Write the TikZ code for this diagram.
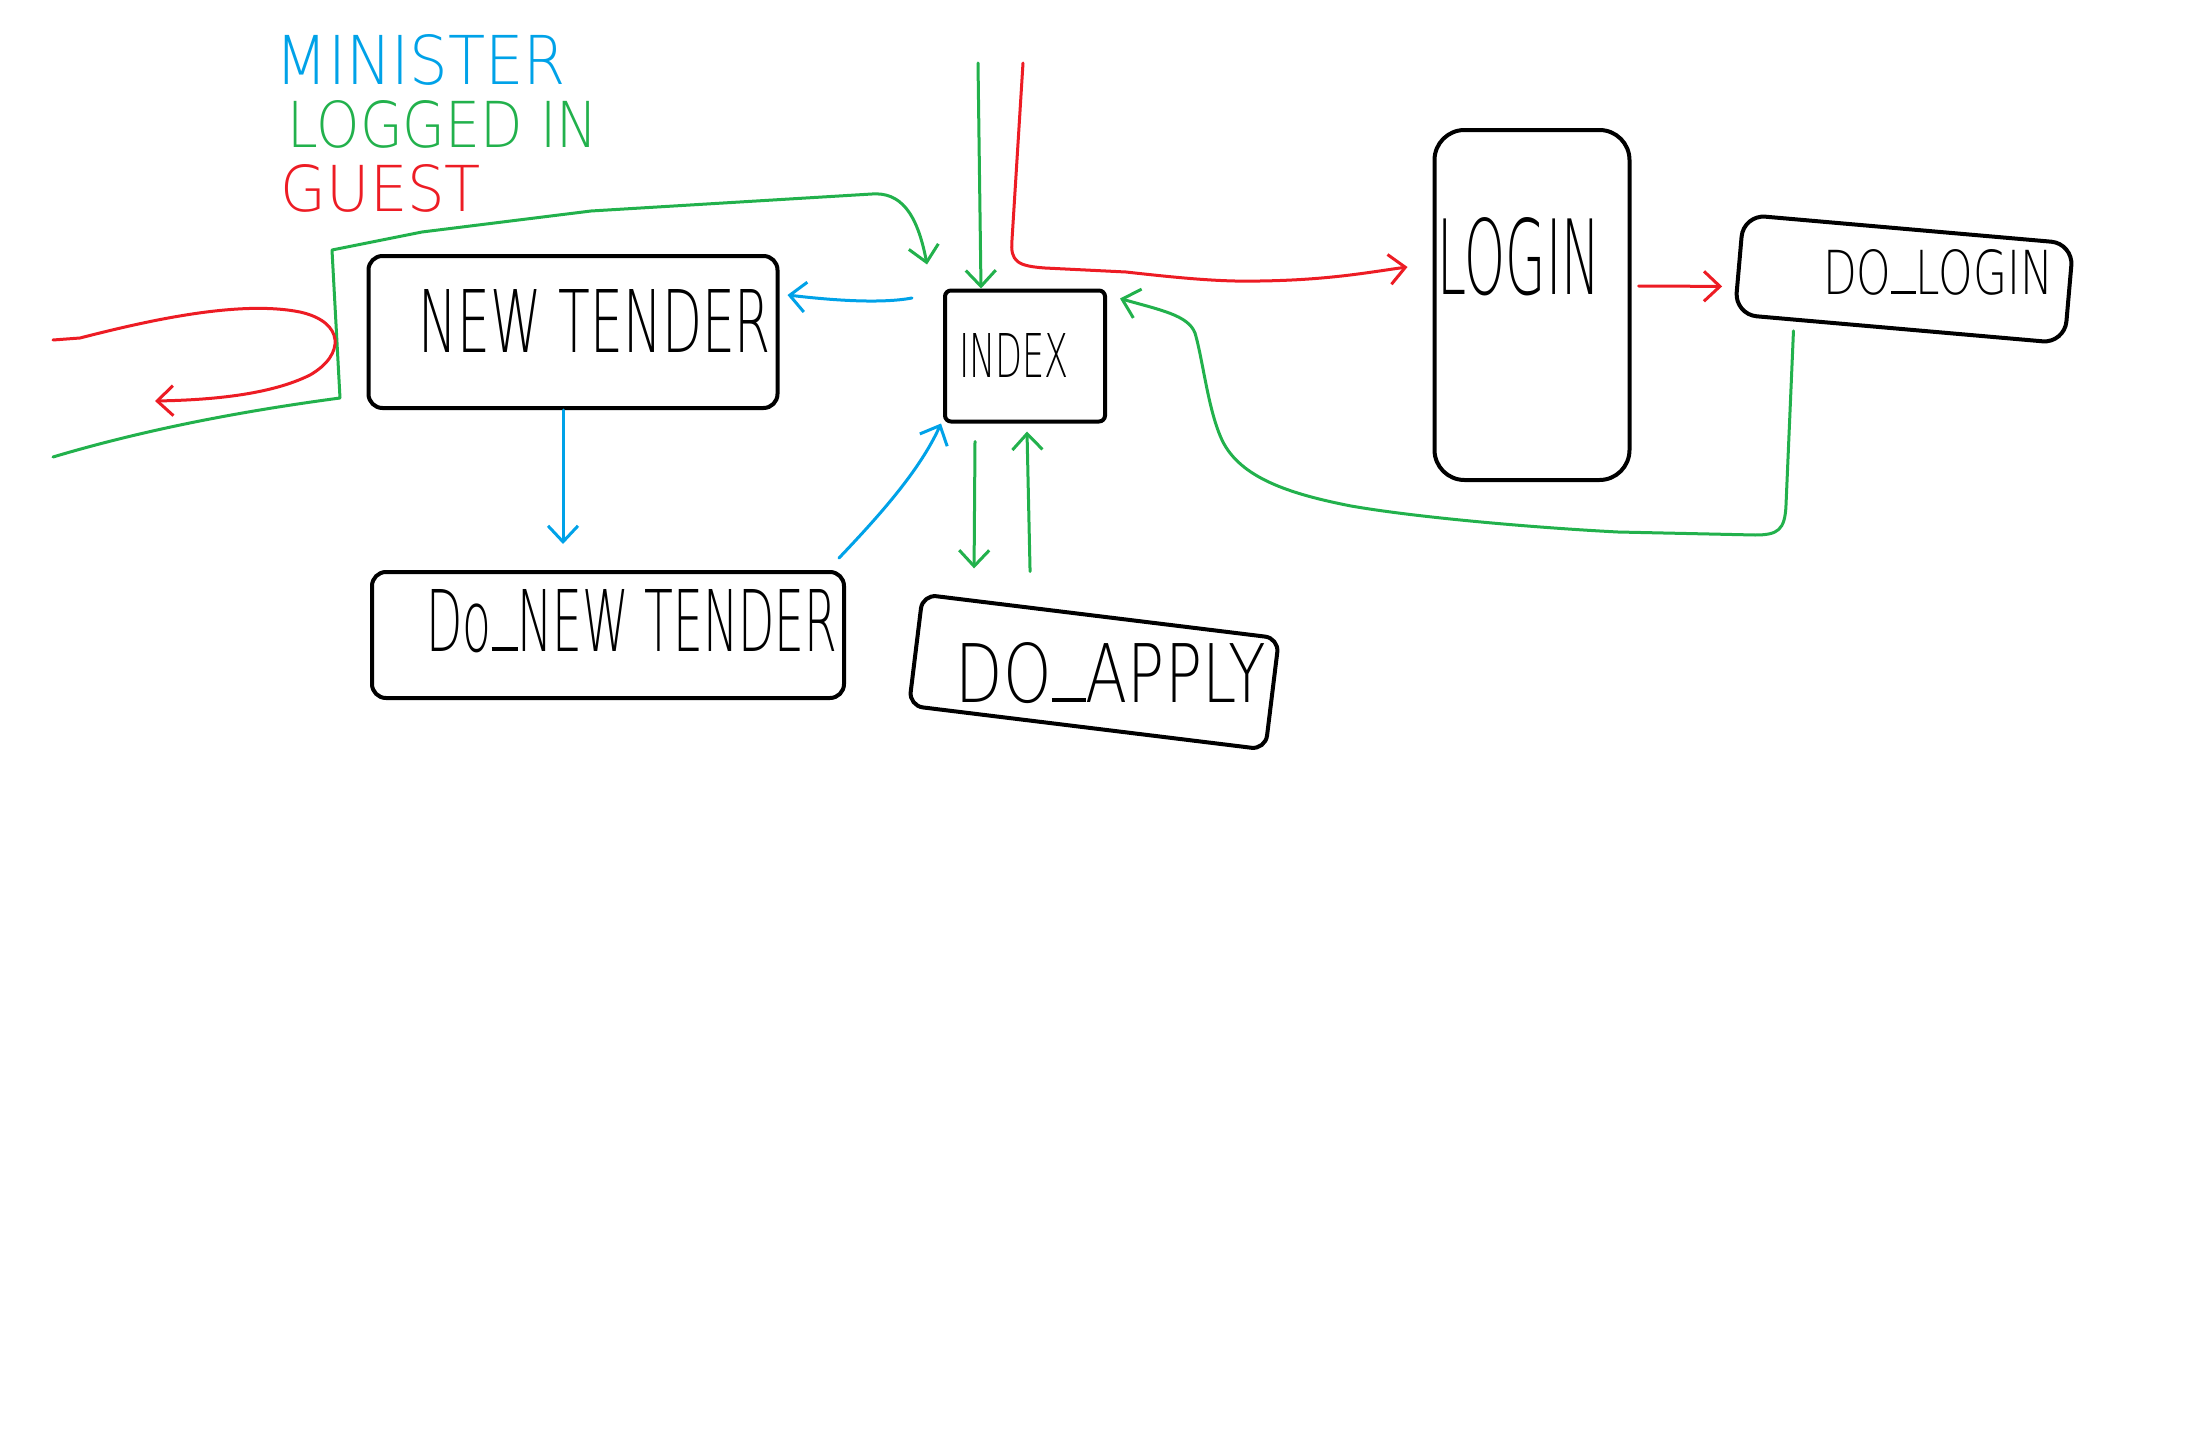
\documentclass[tikz,border=0pt]{standalone}
\usepackage{fontspec}
\newfontfamily\hand{DejaVu Sans ExtraLight}
\usetikzlibrary{arrows.meta}
\definecolor{pblue}{RGB}{0,162,232}
\definecolor{pgreen}{RGB}{34,177,76}
\definecolor{pred}{RGB}{237,28,36}
\newcommand\hw[3]{\resizebox{#1pt}{#2pt}{\hand #3}}
\newcommand\us{\rule{0.55em}{0.05em}}
\begin{document}
\begin{tikzpicture}[x=1pt,y=-1pt,
  box/.style={draw=black, line width=4pt, rounded corners=14pt, inner sep=0pt, anchor=center},
  lbl/.style={inner sep=0pt, anchor=center},
  conn/.style={line width=3pt, line cap=round, line join=round},
  tip/.style={-{Straight Barb[length=16pt,width=30pt]}},
]
\fill[white] (0,0) rectangle (2206,1429);
\useasboundingbox (0,0) rectangle (2206,1429);

% legend
\node[lbl, text=pblue] (legM) at (421,60) {\hw{290}{50}{MINISTER}};
\node[lbl, text=pgreen] (legL) at (443,124) {\hw{310}{47}{LOGGED IN}};
\node[lbl, text=pred] (legG) at (381,188) {\hw{200}{47}{GUEST}};

% boxes
\node[box, minimum width=409pt, minimum height=152pt] (newtender) at (573,332) {};
\node[box, minimum width=160pt, minimum height=131pt, rounded corners=6pt] (index) at (1025,356) {};
\node[box, minimum width=472pt, minimum height=126pt] (donew) at (608,635) {};
\node[box, minimum width=359pt, minimum height=112pt, rotate=-7] (doapply) at (1094,672) {};
\node[box, minimum width=195pt, minimum height=350pt, rounded corners=30pt] (login) at (1532,305) {};
\node[box, minimum width=331pt, minimum height=100pt, rounded corners=22pt, rotate=-5] (dologin) at (1904,279) {};

% box texts
\node[lbl] (tNT) at (595,321) {\hw{352}{63}{NEW TENDER}};
\node[lbl] (tIX) at (1014,355) {\hw{110}{44}{INDEX}};
\node[lbl] (tDN) at (632,621) {\hw{411}{62}{Do\us NEW TENDER}};
\node[lbl] (tDA) at (1111,673) {\hw{310}{60}{DO\us APPLY}};
\node[lbl] (tLG) at (1519,257) {\hw{163}{77}{LOGIN}};
\node[lbl] (tDL) at (1938,272) {\hw{230}{45}{DO\us LOGIN}};

% free ends
\coordinate (gtop) at (978,63);
\coordinate (rtop) at (1023,63);
\coordinate (gleft) at (53,457);
\coordinate (rleft) at (53,340);
\coordinate (rloop) at (155,401);

% green from top into INDEX
\draw[conn, pgreen, tip] (gtop) -- ([xshift=-44pt]index.north);
% red from top to LOGIN
\draw[conn, pred, tip] (rtop) -- (1012,240) .. controls (1010,262) and (1018,266) .. (1045,268)
   -- (1126,272) .. controls (1180,278) and (1220,282) .. (1260,281)
   .. controls (1330,280) and (1370,272) .. ([shift={(-25,-38)}]login.west);
% red LOGIN -> DO_LOGIN
\draw[conn, pred, tip] ([shift={(7,-19)}]login.east) -- ([shift={(-15,22)}]dologin.west);
% green DO_LOGIN -> INDEX
\draw[conn, pgreen, tip] ([xshift=-106pt]dologin.south) -- (1786,505)
   .. controls (1785,530) and (1778,535) .. (1755,535)
   -- (1618,532) .. controls (1540,528) and (1420,518) .. (1351,506)
   .. controls (1290,494) and (1240,478) .. (1222,440)
   .. controls (1208,410) and (1203,360) .. (1195,333)
   .. controls (1188,315) and (1160,310) .. ([shift={(13,10)}]index.north east);
% green big loop from left into INDEX
\draw[conn, pgreen, tip] (gleft) .. controls (150,428) and (250,410) .. (340,398)
   -- (332,250) -- (422,232) -- (591,211) -- (872,194)
   .. controls (900,192) and (917,212) .. ([shift={(-16,-24)}]index.north west);
% red loop at left
\draw[conn, pred, tip] (rleft) -- (80,338) .. controls (150,320) and (240,300) .. (300,312)
   .. controls (345,322) and (345,355) .. (310,375)
   .. controls (270,395) and (210,400) .. (rloop);
% blue INDEX -> NEW TENDER
\draw[conn, pblue, tip] ([shift={(-31,-58)}]index.west) .. controls (880,304) and (830,300) .. ([shift={(8,-37)}]newtender.east);
% blue NEW TENDER -> DO_NEW TENDER
\draw[conn, pblue, tip] ([xshift=-10pt]newtender.south) -- ([shift={(-45,-26)}]donew.north);
% blue DO_NEW TENDER -> INDEX
\draw[conn, pblue, tip] ([shift={(-7,-12)}]donew.north east) .. controls (880,515) and (920,470) .. ([xshift=-2pt]index.south west);
% green INDEX <-> DO_APPLY
\draw[conn, pgreen, tip] ([shift={(-50,18)}]index.south) -- ([shift={(-127,-46)}]doapply.north);
\draw[conn, pgreen, tip] ([shift={(-71,-43)}]doapply.north) -- ([shift={(2,8)}]index.south);
\end{tikzpicture}
\end{document}
